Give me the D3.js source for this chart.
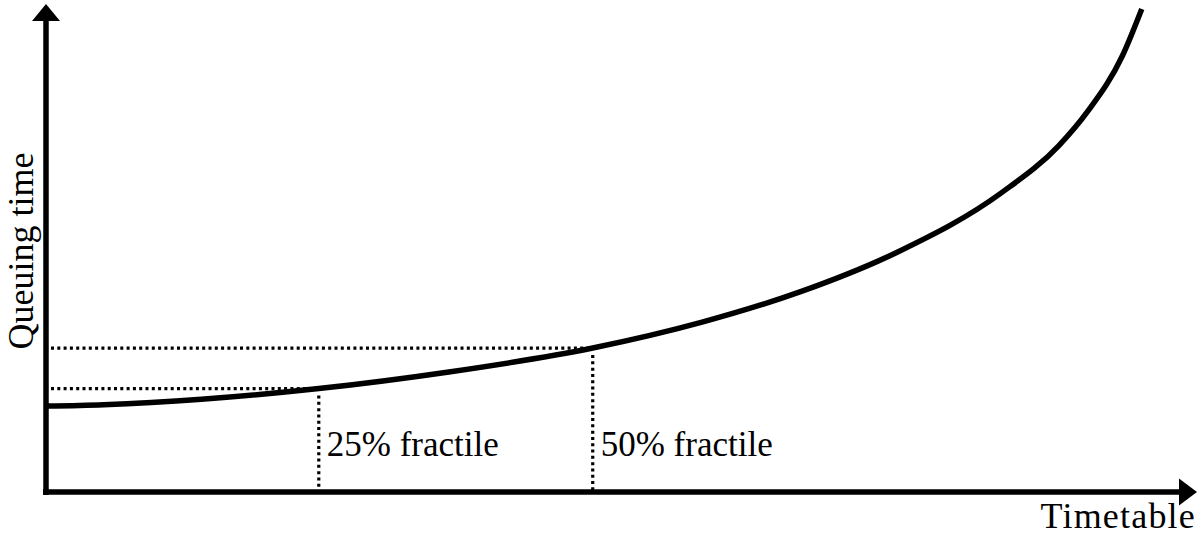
<!DOCTYPE html>
<html>
<head>
<meta charset="utf-8">
<script src="https://cdn.jsdelivr.net/npm/d3@7"></script>
<style>
  html, body { margin: 0; padding: 0; background: #fff; font-family: "Liberation Serif"; }
  svg { display: block; font-family: "Liberation Serif"; }
  svg text { font-family: "Liberation Serif" !important; }
</style>
</head>
<body>
<svg id="chart" width="1198" height="536" font-family="Liberation Serif"></svg>
<script>
// Curve data (abstract units: timetable 0..100, queuing time 0..100)
const timetable = [0, 5, 13.5, 23.7, 35, 47.5, 57, 65.5, 74, 83, 88, 90.5, 93.5, 95.2];
const queuing   = [17.6, 17.9, 19.0, 21.2, 24.6, 29.5, 34.8, 41.0, 49.2, 61.3, 71.0, 78.0, 89.3, 99];
// Fractile markers
const fractileLabels = ["25% fractile", "50% fractile"];
const fractileX = [23.7, 47.5];
const fractileY = [21.2, 29.5];
const xAxisLabel = "Timetable";
const yAxisLabel = "Queuing time";

const FONT = '"Liberation Serif"';
const svg = d3.select("#chart");
const x = d3.scaleLinear().domain([0, 100]).range([46, 1197]);
const y = d3.scaleLinear().domain([0, 100]).range([492, 4]);

const pts = timetable.map((t, i) => [t, queuing[i]]);

// dotted guide lines
const fr = fractileX.map((fx, i) => ({ x: fx, y: fractileY[i], label: fractileLabels[i] }));
const guides = svg.append("g")
  .attr("stroke", "#000").attr("stroke-width", 3.2).attr("stroke-dasharray", "3,3.3").attr("fill", "none");
guides.selectAll("line.h").data(fr).join("line").attr("class", "h")
  .attr("x1", x(0) + 5).attr("x2", d => x(d.x))
  .attr("y1", d => y(d.y)).attr("y2", d => y(d.y));
guides.selectAll("line.v").data(fr).join("line").attr("class", "v")
  .attr("x1", d => x(d.x)).attr("x2", d => x(d.x))
  .attr("y1", d => y(d.y) + 7).attr("y2", y(0));

// curve
const line = d3.line().x(d => x(d[0])).y(d => y(d[1])).curve(d3.curveMonotoneX);
svg.append("path").datum(pts).attr("d", line)
  .attr("fill", "none").attr("stroke", "#000").attr("stroke-width", 5.5);

// axes
const ax = svg.append("g");
ax.append("line").attr("x1", x(0) - 3).attr("x2", 1181).attr("y1", y(0)).attr("y2", y(0))
  .attr("stroke", "#000").attr("stroke-width", 5.5);
ax.append("line").attr("x1", x(0)).attr("x2", x(0)).attr("y1", y(0) + 3).attr("y2", 19)
  .attr("stroke", "#000").attr("stroke-width", 5.5);
ax.append("path").attr("d", `M1197,${y(0)} L1179,${y(0) - 13.5} L1179,${y(0) + 13.5} Z`).attr("fill", "#000");
ax.append("path").attr("d", `M${x(0)},4 L${x(0) - 14},21 L${x(0) + 14},21 Z`).attr("fill", "#000");

// labels
svg.selectAll("text.fr").data(fr).join("text").attr("class", "fr")
  .attr("x", d => x(d.x) + 8).attr("y", 456).attr("font-size", 35).text(d => d.label);
svg.append("text").attr("x", 1196).attr("y", 528).attr("text-anchor", "end")
  .attr("font-size", 36).attr("letter-spacing", 1.2).text(xAxisLabel);
svg.append("text").attr("transform", "translate(33,251) rotate(-90)").attr("text-anchor", "middle")
  .attr("font-size", 36).text(yAxisLabel);
svg.selectAll("text").attr("font-family", "Liberation Serif").style("font-family", FONT).attr("fill", "#000");
</script>
</body>
</html>
